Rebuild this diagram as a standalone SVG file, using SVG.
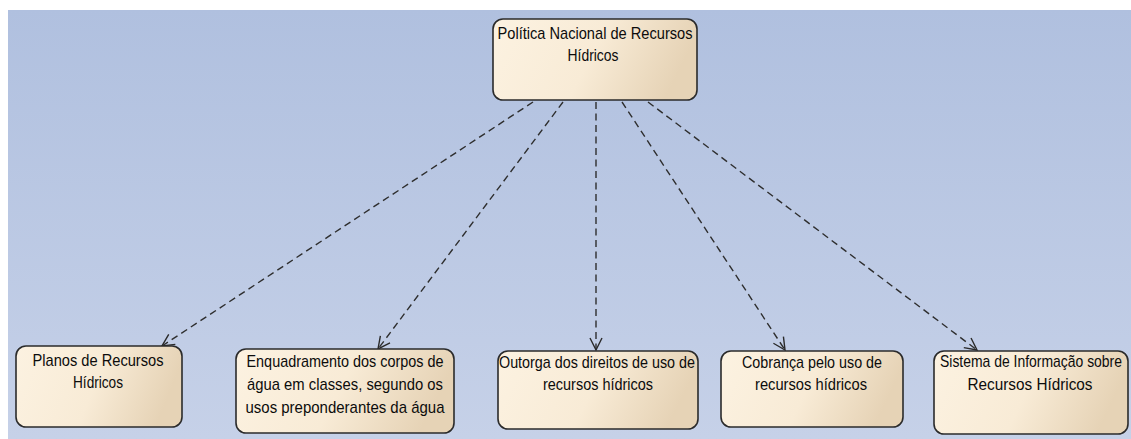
<svg xmlns="http://www.w3.org/2000/svg" width="1131" height="439" viewBox="0 0 1131 439">
<defs>
<linearGradient id="bg" x1="0" y1="0" x2="0" y2="1">
<stop offset="0" stop-color="#b0c0df"/>
<stop offset="1" stop-color="#c6d1e8"/>
</linearGradient>
<linearGradient id="nodefill" x1="0" y1="0" x2="1" y2="0.2">
<stop offset="0" stop-color="#fcf2e1"/>
<stop offset="0.55" stop-color="#f8ebd6"/>
<stop offset="1" stop-color="#e6d3b6"/>
</linearGradient>
<marker id="arrow" markerUnits="userSpaceOnUse" markerWidth="16" markerHeight="16" viewBox="-14 -8 16 16" refX="0" refY="0" orient="auto">
<path d="M -12,-6 L 0,0 L -12,6" fill="none" stroke="#2a2a2a" stroke-width="1.4"/>
</marker>
<style>
.node rect { fill: url(#nodefill); stroke: #2b2b2b; stroke-width: 1.6; }
.node text { font-family: "Liberation Sans", Arial, sans-serif; font-size: 17px; fill: #0c0c0c; text-anchor: middle; }
.conn { fill: none; stroke: #2e2e2e; stroke-width: 1.4; stroke-dasharray: 7 4.5; marker-end: url(#arrow); }
</style>
</defs>
<rect x="0" y="0" width="1131" height="439" fill="#ffffff"/>
<rect x="8" y="10" width="1123" height="429" fill="url(#bg)"/>

<g id="connectors">
<line class="conn" x1="533" y1="102" x2="162" y2="346"/>
<line class="conn" x1="563" y1="102" x2="378" y2="349"/>
<line class="conn" x1="596" y1="102" x2="596" y2="350"/>
<line class="conn" x1="622" y1="102" x2="785" y2="350"/>
<line class="conn" x1="648" y1="102" x2="977" y2="350"/>
</g>

<g id="node-politica" class="node">
<rect x="493" y="19" width="204" height="81" rx="10" ry="10"/>
<text x="595" y="39" textLength="195" lengthAdjust="spacingAndGlyphs">Política Nacional de Recursos</text>
<text x="593" y="61" textLength="51" lengthAdjust="spacingAndGlyphs">Hídricos</text>
</g>

<g id="node-planos" class="node">
<rect x="16" y="346" width="166" height="81" rx="10" ry="10"/>
<text x="98" y="366" textLength="131" lengthAdjust="spacingAndGlyphs">Planos de Recursos</text>
<text x="98" y="388" textLength="50" lengthAdjust="spacingAndGlyphs">Hídricos</text>
</g>

<g id="node-enquadramento" class="node">
<rect x="236" y="349" width="218" height="84" rx="10" ry="10"/>
<text x="345" y="367" textLength="197" lengthAdjust="spacingAndGlyphs">Enquadramento dos corpos de</text>
<text x="345" y="390" textLength="196" lengthAdjust="spacingAndGlyphs">água em classes, segundo os</text>
<text x="345" y="413" textLength="199" lengthAdjust="spacingAndGlyphs">usos preponderantes da água</text>
</g>

<g id="node-outorga" class="node">
<rect x="498" y="351" width="200" height="78" rx="10" ry="10"/>
<text x="597" y="368" textLength="196" lengthAdjust="spacingAndGlyphs">Outorga dos direitos de uso de</text>
<text x="598" y="390" textLength="110" lengthAdjust="spacingAndGlyphs">recursos hídricos</text>
</g>

<g id="node-cobranca" class="node">
<rect x="721" y="351" width="182" height="76" rx="10" ry="10"/>
<text x="812" y="368" textLength="140" lengthAdjust="spacingAndGlyphs">Cobrança pelo uso de</text>
<text x="811" y="390" textLength="112" lengthAdjust="spacingAndGlyphs">recursos hídricos</text>
</g>

<g id="node-sistema" class="node">
<rect x="934" y="351" width="194" height="83" rx="10" ry="10"/>
<text x="1031" y="367" textLength="182" lengthAdjust="spacingAndGlyphs">Sistema de Informação sobre</text>
<text x="1030" y="390" textLength="125" lengthAdjust="spacingAndGlyphs">Recursos Hídricos</text>
</g>
</svg>
